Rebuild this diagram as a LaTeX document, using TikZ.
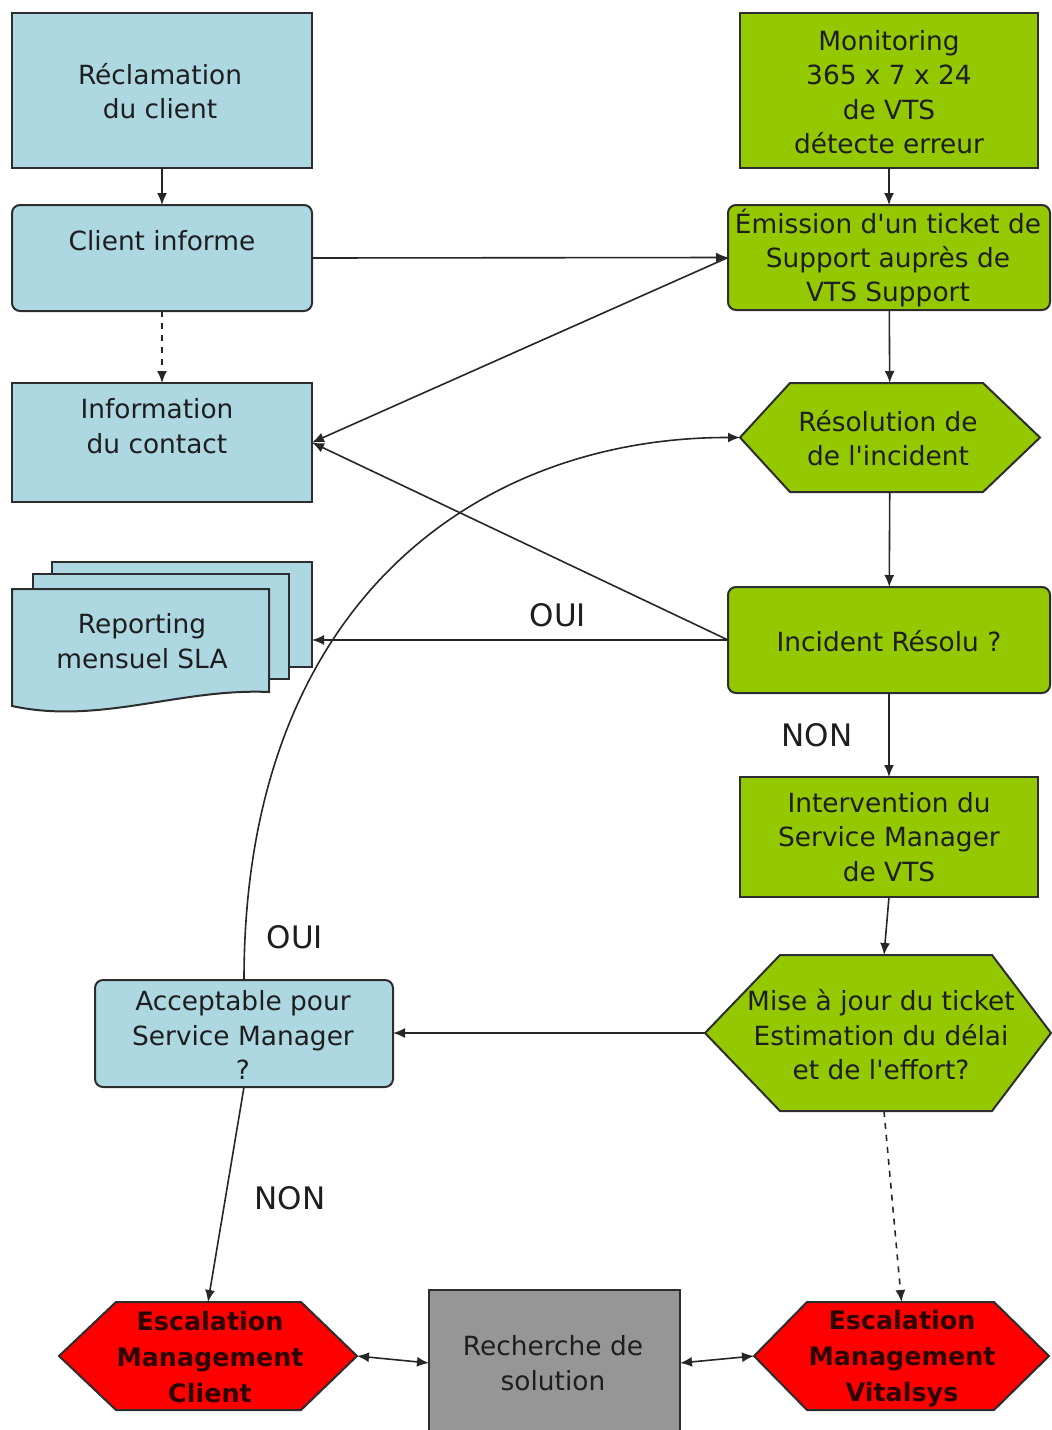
\documentclass[tikz,border=0pt]{standalone}
\usepackage{fontspec}
\setmainfont{DejaVu Sans}[Ligatures=TeXOff]
\usetikzlibrary{arrows.meta,fit}
\pgfdeclarelayer{background}
\pgfsetlayers{background,main}
\definecolor{boxblue}{RGB}{173,216,226}
\definecolor{boxgreen}{RGB}{148,200,0}
\definecolor{boxred}{RGB}{255,0,0}
\definecolor{boxgray}{RGB}{150,150,150}
\definecolor{bord}{RGB}{45,45,45}
\definecolor{txt}{RGB}{30,30,30}
\newcommand\hexpath[4]{%
  \begin{pgfonlayer}{background}
  \path[draw=bord,line width=1pt,fill=#4] (#1.west) -- ([xshift=#2]#1.north west) -- ([xshift=-#3]#1.north east) -- (#1.east) -- ([xshift=-#3]#1.south east) -- ([xshift=#2]#1.south west) -- cycle;
  \end{pgfonlayer}}
\begin{document}
\begin{tikzpicture}[x=0.5pt,y=-0.5pt,
  font=\fontsize{13.2}{17.2}\selectfont,
  >={Latex[length=6pt,width=5pt]},
  box/.style={draw=bord,line width=1pt,inner sep=0pt,outer sep=0pt},
  bluebox/.style={box,fill=boxblue},
  greenbox/.style={box,fill=boxgreen},
  rbox/.style={rounded corners=4pt},
  hexn/.style={inner sep=0pt,outer sep=0pt},
  boldtxt/.style={align=center,font=\fontsize{12.7}{18}\selectfont\bfseries,text={rgb,255:red,45;green,0;blue,0}},
  plain/.style={align=center,text=txt},
  conn/.style={draw=black!85,line width=0.8pt,->},
  lbl/.style={font=\fontsize{15.5}{18}\selectfont,text=txt}]
\useasboundingbox (0,0) rectangle (1051,1430);

% left column
\node[bluebox, fit={(12,13) (312,168)}] (recl) {};
\node[plain] (rectxt) at (160,91) {Réclamation\\du client};
\node[bluebox, rbox, fit={(12,205) (312,311)}] (ci) {};
\node[plain] (citxt) at (162,241) {Client informe};
\node[bluebox, fit={(12,383) (312,502)}] (info) {};
\node[plain] (infotxt) at (157,426) {Information\\du contact};

% reporting document stack
\node[bluebox, fit={(52,562) (312,667)}] (rep) {};
\node[bluebox, fit={(33,574) (289,679)}] (rep2) {};
\path[draw=bord,line width=1pt,fill=boxblue] (12,589) -- (269,589) -- (269,692) .. controls (180,688) and (100,725) .. (12,706) -- cycle;
\node[plain] (reptxt) at (142,641) {Reporting\\mensuel SLA};

% right column
\node[greenbox, fit={(740,13) (1038,168)}] (moni) {};
\node[plain] (monitxt) at (889,92) {Monitoring\\365 x 7 x 24\\de VTS\\détecte erreur};
\node[greenbox, rbox, fit={(728,205) (1050,310)}] (emis) {};
\node[plain] (emistxt) at (888,258) {Émission d'un ticket de\\Support auprès de\\VTS Support};
\node[hexn, fit={(740,383) (1040,492)}] (resol) {};
\hexpath{resol}{25pt}{28.5pt}{boxgreen}
\node[plain] (resoltxt) at (888,438) {Résolution de\\de l'incident};
\node[greenbox, rbox, fit={(728,587) (1050,693)}] (inc) {};
\node[plain] (inctxt) at (889,641) {Incident Résolu ?};
\node[greenbox, fit={(740,777) (1038,897)}] (interv) {};
\node[plain] (intervtxt) at (889,837) {Intervention du\\Service Manager\\de VTS};
\node[hexn, fit={(705,955) (1051,1111)}] (mise) {};
\hexpath{mise}{37.5pt}{29.5pt}{boxgreen}
\node[plain] (misetxt) at (881,1035) {Mise à jour du ticket\\Estimation du délai\\et de l'effort?};
\node[bluebox, rbox, fit={(95,980) (393,1087)}] (acc) {};
\node[plain] (acctxt) at (243,1035) {Acceptable pour\\Service Manager\\?};

% bottom row
\node[hexn, fit={(59,1302) (357,1410)}] (escC) {};
\hexpath{escC}{28.5pt}{28pt}{boxred}
\node[boldtxt] (escCtxt) at (210,1357) {Escalation\\Management\\Client};
\node[box, fill=boxgray, fit={(429,1290) (680,1436)}] (rech) {};
\node[plain] (rechtxt) at (553,1363) {Recherche de\\solution};
\node[hexn, fit={(754,1302) (1049,1410)}] (escV) {};
\hexpath{escV}{26.5pt}{27.5pt}{boxred}
\node[boldtxt] (escVtxt) at (902,1359) {Escalation\\Management\\Vitalsys};

% labels
\node[lbl] (oui1) at (558,615) {OUI};
\node[lbl] (non1) at (817,735) {NON};
\node[lbl] (oui2) at (295,937) {OUI};
\node[lbl] (non2) at (290,1198) {NON};

% connectors
\draw[conn] (recl) -- (ci);
\draw[conn,dashed] (ci) -- (info);
\draw[conn] (ci.east) -- (emis.west);
\draw[conn] (moni) -- (emis);
\draw[conn] (emis.west) -- (info.east);
\draw[conn] (emis) -- (resol);
\draw[conn] (resol) -- (inc);
\draw[conn] (inc.west) -- (inc.west -| rep.east);
\draw[conn] (inc.west) -- (info.east);
\draw[conn] (inc) -- (interv);
\draw[conn] (interv.south) -- ([xshift=3pt]mise.north);
\draw[conn] (mise.west) -- (mise.west -| acc.east);
\draw[conn,dashed] ([xshift=3pt]mise.south) -- (escV.north);
\draw[conn] (acc.north) .. controls (244,600) and (480,437) .. (resol.west);
\draw[conn] (acc.south) -- (escC.north);
\draw[conn,<->] (escC.east) -- (rech.west);
\draw[conn,<->] (rech.east) -- (escV.west);
\end{tikzpicture}
\end{document}
